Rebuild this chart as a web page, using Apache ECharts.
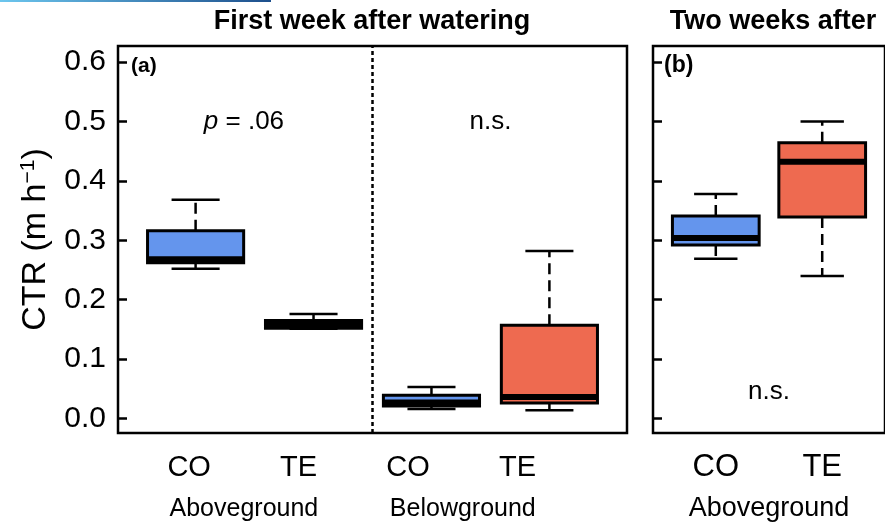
<!DOCTYPE html>
<html>
<head>
<meta charset="utf-8">
<script src="https://cdn.jsdelivr.net/npm/echarts@6/dist/echarts.min.js"></script>
<style>
html, body { margin: 0; padding: 0; background: #fff; }
#chart { width: 885px; height: 527px; }
</style>
</head>
<body>
<div id="chart"></div>
<script>
// treatments along x
const week1Groups = ['CO', 'TE', 'CO', 'TE']
const week1Tissue = ['Aboveground', 'Belowground']
const week2Groups = ['CO', 'TE']
const week2Tissue = ['Aboveground']

// CTR (m h-1) box stats: [min, Q1, median, Q3, max]
const week1Stats = [
  [0.252, 0.262, 0.268, 0.316, 0.368],
  [0.151, 0.152, 0.158, 0.165, 0.176],
  [0.016, 0.021, 0.027, 0.039, 0.053],
  [0.014, 0.026, 0.036, 0.157, 0.282]
]
const week2Stats = [
  [0.269, 0.292, 0.304, 0.341, 0.378],
  [0.240, 0.339, 0.432, 0.464, 0.500]
]

const yTicks = [0, 0.1, 0.2, 0.3, 0.4, 0.5, 0.6]

const colors = { CO: '#6495ED', TE: '#EE6A50' }
const FONT = '"Liberation Sans", Arial, Helvetica, sans-serif'
const boxWidth = 0.815

const myChart = echarts.init(document.getElementById('chart'))

function boxRenderer(groups) {
  return function (params, api) {
    const x = api.value(0)
    const lo = api.coord([x, api.value(1)])
    const q1 = api.coord([x, api.value(2)])
    const md = api.coord([x, api.value(3)])
    const q3 = api.coord([x, api.value(4)])
    const hi = api.coord([x, api.value(5)])
    const w = api.size([boxWidth, 0])[0]
    const cx = lo[0]
    const cap = w / 4
    const thin = { stroke: '#000', lineWidth: 2.5 }
    const dash = { stroke: '#000', lineWidth: 2.5, lineDash: [11, 6] }
    return {
      type: 'group',
      children: [
        { type: 'line', shape: { x1: cx, y1: q3[1], x2: cx, y2: hi[1] }, style: dash },
        { type: 'line', shape: { x1: cx, y1: q1[1], x2: cx, y2: lo[1] }, style: dash },
        { type: 'line', shape: { x1: cx - cap, y1: hi[1], x2: cx + cap, y2: hi[1] }, style: thin },
        { type: 'line', shape: { x1: cx - cap, y1: lo[1], x2: cx + cap, y2: lo[1] }, style: thin },
        {
          type: 'rect',
          shape: { x: cx - w / 2, y: q3[1], width: w, height: q1[1] - q3[1] },
          style: { fill: colors[groups[params.dataIndex]], stroke: '#000', lineWidth: 3 }
        },
        { type: 'line', shape: { x1: cx - w / 2, y1: md[1], x2: cx + w / 2, y2: md[1] }, style: { stroke: '#000', lineWidth: 6 } }
      ]
    }
  }
}

function yAxisFor(gridIndex, withLabels) {
  return {
    gridIndex: gridIndex,
    type: 'value',
    min: -0.0244,
    max: 0.627,
    axisLine: { show: false, onZero: false },
    axisTick: {
      show: true,
      inside: true,
      length: 9,
      customValues: yTicks,
      lineStyle: { color: '#000', width: 2.5 }
    },
    axisLabel: {
      show: withLabels,
      customValues: yTicks,
      formatter: (v) => v.toFixed(1),
      fontSize: 30,
      margin: 12,
      color: '#000',
      fontFamily: FONT
    },
    splitLine: { show: false },
    name: withLabels ? 'CTR (m h{sup|\u22121})' : '',
    nameLocation: 'middle',
    nameGap: 64,
    nameRotate: 90,
    nameTextStyle: {
      fontSize: 34,
      color: '#000',
      fontFamily: FONT,
      rich: {
        sup: { fontSize: 21, color: '#000', fontFamily: FONT, verticalAlign: 'top', padding: [0, 0, 15, 0] }
      }
    }
  }
}

// x axis; labels optional (plotting axis has none, label axes carry the text)
function xAxisFor(gridIndex, min, max, values, names, size, margin) {
  return {
    gridIndex: gridIndex,
    type: 'value',
    position: 'bottom',
    offset: 0,
    min: min,
    max: max,
    axisLine: { show: false, onZero: false },
    axisTick: { show: false },
    splitLine: { show: false },
    axisLabel: {
      show: values.length > 0,
      customValues: values,
      formatter: (v) => names[values.indexOf(v)],
      fontSize: size,
      margin: margin,
      color: '#000',
      fontFamily: FONT
    }
  }
}

const noteLabel = {
  show: true,
  position: 'inside',
  fontSize: 26,
  color: '#000',
  fontFamily: FONT,
  formatter: (p) => p.data.text,
  rich: { i: { fontStyle: 'italic', fontSize: 26, color: '#000', fontFamily: FONT } }
}

const option = {
  backgroundColor: '#fff',
  animation: false,
  textStyle: { fontFamily: FONT },
  grid: [
    { left: 118, top: 46, width: 509, height: 387, show: true, borderColor: '#000', borderWidth: 2.5 },
    { left: 653, top: 46, width: 241.5, height: 387, show: true, borderColor: '#000', borderWidth: 2.5 }
  ],
  xAxis: [
    xAxisFor(0, 0.342, 4.658, [], [], 29, 20),
    xAxisFor(0, 0.35, 5.0, [1, 2, 3, 4], week1Groups, 29, 20),
    xAxisFor(0, 0.35, 5.0, [1.5, 3.5], week1Tissue, 25, 64),
    xAxisFor(1, 0.41, 2.59, [1, 2], week2Groups, 31, 19),
    xAxisFor(1, 0.41, 2.59, [1.5], week2Tissue, 27, 62)
  ],
  yAxis: [yAxisFor(0, true), yAxisFor(1, false)],
  series: [
    {
      type: 'custom',
      xAxisIndex: 0,
      yAxisIndex: 0,
      renderItem: boxRenderer(week1Groups),
      encode: { x: 0, y: [1, 2, 3, 4, 5] },
      data: week1Stats.map((s, i) => [i + 1].concat(s))
    },
    {
      type: 'custom',
      xAxisIndex: 3,
      yAxisIndex: 1,
      renderItem: boxRenderer(week2Groups),
      encode: { x: 0, y: [1, 2, 3, 4, 5] },
      data: week2Stats.map((s, i) => [i + 1].concat(s))
    },
    {
      // test results + separator between above / below ground
      type: 'scatter',
      xAxisIndex: 0,
      yAxisIndex: 0,
      symbolSize: 1,
      itemStyle: { color: 'rgba(0,0,0,0)', opacity: 1 },
      silent: true,
      label: noteLabel,
      data: [
        { value: [1.41, 0.5], text: '{i|p} = .06' },
        { value: [3.5, 0.5], text: 'n.s.' }
      ],
      markLine: {
        silent: true,
        symbol: ['none', 'none'],
        label: { show: false },
        lineStyle: { color: '#000', width: 2.5, type: [4, 3] },
        data: [{ xAxis: 2.5 }]
      }
    },
    {
      type: 'scatter',
      xAxisIndex: 3,
      yAxisIndex: 1,
      symbolSize: 1,
      itemStyle: { color: 'rgba(0,0,0,0)', opacity: 1 },
      silent: true,
      label: noteLabel,
      data: [{ value: [1.5, 0.045], text: 'n.s.' }]
    }
  ],
  graphic: [
    {
      type: 'rect',
      shape: { x: 0, y: 0, width: 271, height: 2 },
      style: {
        fill: new echarts.graphic.LinearGradient(0, 0, 1, 0, [
          { offset: 0, color: '#6cc6ee' },
          { offset: 1, color: '#1d4f8c' }
        ])
      },
      silent: true
    },
    {
      type: 'text', x: 372, y: 22,
      style: { text: 'First week after watering', font: 'bold 27px ' + FONT, fill: '#000', align: 'center', verticalAlign: 'middle' }
    },
    {
      type: 'text', x: 773, y: 22,
      style: { text: 'Two weeks after', font: 'bold 27px ' + FONT, fill: '#000', align: 'center', verticalAlign: 'middle' }
    },
    {
      type: 'text', x: 131, y: 66,
      style: { text: '(a)', font: 'bold 21px ' + FONT, fill: '#000', verticalAlign: 'middle' }
    },
    {
      type: 'text', x: 664, y: 66,
      style: { text: '(b)', font: 'bold 23px ' + FONT, fill: '#000', verticalAlign: 'middle' }
    }
  ]
}

myChart.setOption(option)
</script>
</body>
</html>
